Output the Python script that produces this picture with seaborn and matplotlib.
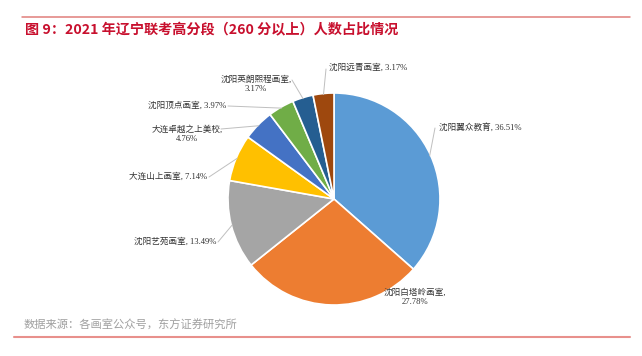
import matplotlib
matplotlib.use("Agg")
import matplotlib.pyplot as plt
import seaborn as sns
import numpy as np

sns.set_style("white")
plt.rcParams['font.family'] = ['Noto Sans CJK SC', 'DejaVu Sans']

names = ["沈阳翼众教育", "沈阳白塔岭画室", "沈阳艺苑画室", "大连山上画室",
         "大连卓越之上美校", "沈阳顶点画室", "沈阳英朗熙程画室", "沈阳远青画室"]
shares = [36.51, 27.78, 13.49, 7.14, 4.76, 3.97, 3.17, 3.17]
colors = ["#5B9BD5", "#ED7D31", "#A5A5A5", "#FFC000",
          "#4472C4", "#70AD47", "#255E91", "#9E480E"]

title = "图 9：2021 年辽宁联考高分段（260 分以上）人数占比情况"
source = "数据来源：各画室公众号，东方证券研究所"

W, H = 642, 356
fig = plt.figure(figsize=(W / 100, H / 100), dpi=100)

# pie centre / radius in pixels
cx, cy, r = 334, 199, 106
ax = fig.add_axes([(cx - r) / W, (H - cy - r) / H, 2 * r / W, 2 * r / H])
wedges, _ = ax.pie(shares, colors=colors, startangle=90, counterclock=False,
                   wedgeprops=dict(edgecolor="white", linewidth=1.2))
ax.set_xlim(-1, 1)
ax.set_ylim(-1, 1)
ax.set_aspect("equal")
ax.axis("off")


def px(x, y):
    return ((x - cx) / r, (cy - y) / r)


# label text position (pixels), alignment, leader start (pixels) or None
label_pos = [
    ((439, 127), "left", (435, 128)),
    ((415, 297), "center", None),
    ((216, 242), "right", (218, 242)),
    ((207, 177), "right", (209, 177)),
    ((187, 134), "center", (221, 129)),
    ((226, 106), "right", (228, 106)),
    ((256, 84), "center", (292, 80)),
    ((329, 68), "left", (326, 69)),
]
two_line = {1, 4, 6}

ang = 90.0
font = ['Liberation Serif', 'Noto Sans CJK SC']
for i, (name, v) in enumerate(zip(names, shares)):
    mid = np.deg2rad(ang - v * 3.6 / 2)
    ang -= v * 3.6
    sep = ",\n" if i in two_line else ", "
    txt = f"{name}{sep}{v:.2f}%"
    (tx, ty), ha, lead = label_pos[i]
    ax.text(*px(tx, ty), txt, ha=ha, va="center", fontsize=6.2,
            family=font, color="#333333", linespacing=1.3, clip_on=False)
    if lead is not None:
        ex, ey = np.cos(mid) * 0.99, np.sin(mid) * 0.99
        ax.plot([px(*lead)[0], ex], [px(*lead)[1], ey], color="#BFBFBF",
                linewidth=0.7, clip_on=False)

# header / footer
fig.add_artist(plt.Line2D([22 / W, 630 / W], [1 - 17 / H, 1 - 17 / H],
                          color="#E07F7B", linewidth=1.1))
fig.text(25 / W, 1 - 30 / H, title, color="#C8102E", fontsize=10.2,
         fontweight="bold", va="center", ha="left")
fig.text(24 / W, 1 - 325 / H, source, color="#A0A0A0", fontsize=8.1,
         va="center", ha="left")
fig.add_artist(plt.Line2D([14 / W, 630 / W], [1 - 337 / H, 1 - 337 / H],
                          color="#E8908C", linewidth=1.5))

fig.savefig("out.png", dpi=100)
